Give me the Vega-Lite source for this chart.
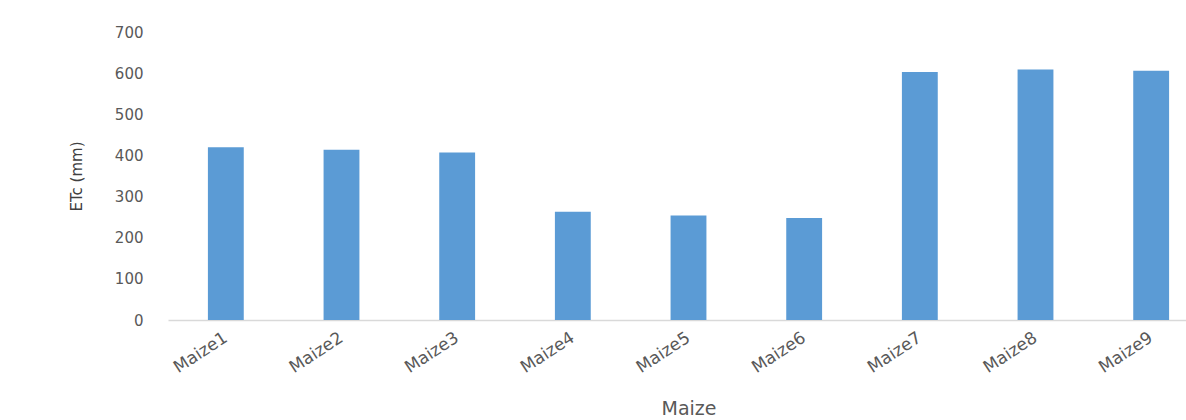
{
  "$schema": "https://vega.github.io/schema/vega-lite/v6.json",
  "autosize": "none",
  "width": 1041,
  "height": 288,
  "padding": {"left": 168, "top": 32, "right": 0, "bottom": 100},
  "background": "white",
  "config": {
    "view": {"stroke": null},
    "font": "DejaVu Sans"
  },
  "data": {
    "values": [
      {"crop": "Maize1", "etc": 420},
      {"crop": "Maize2", "etc": 414},
      {"crop": "Maize3", "etc": 407},
      {"crop": "Maize4", "etc": 263},
      {"crop": "Maize5", "etc": 254},
      {"crop": "Maize6", "etc": 248},
      {"crop": "Maize7", "etc": 603},
      {"crop": "Maize8", "etc": 609},
      {"crop": "Maize9", "etc": 606}
    ]
  },
  "mark": {"type": "bar", "color": "#5B9BD5"},
  "encoding": {
    "x": {
      "field": "crop",
      "type": "nominal",
      "sort": null,
      "scale": {"paddingInner": 0.69, "paddingOuter": 0.345},
      "axis": {
        "title": "Maize",
        "titleFont": "DejaVu Sans",
        "titleFontSize": 19,
        "titleFontWeight": "normal",
        "titleColor": "#595959",
        "titlePadding": 24,
        "labelAngle": -33,
        "labelAlign": "right",
        "labelBaseline": "middle",
        "labelFont": "DejaVu Sans",
        "labelFontSize": 17,
        "labelColor": "#595959",
        "labelPadding": 16,
        "ticks": false,
        "domainColor": "#D9D9D9",
        "domainWidth": 1.5,
        "grid": false
      }
    },
    "y": {
      "field": "etc",
      "type": "quantitative",
      "scale": {"domain": [0, 700]},
      "axis": {
        "title": "ETc (mm)",
        "titleFont": "DejaVu Sans",
        "titleFontSize": 15,
        "titleFontWeight": "normal",
        "titleColor": "#404040",
        "titlePadding": 30,
        "values": [0, 100, 200, 300, 400, 500, 600, 700],
        "labelFont": "DejaVu Sans",
        "labelFontSize": 15,
        "labelColor": "#595959",
        "labelPadding": 25,
        "ticks": false,
        "domain": false,
        "grid": false
      }
    }
  }
}
